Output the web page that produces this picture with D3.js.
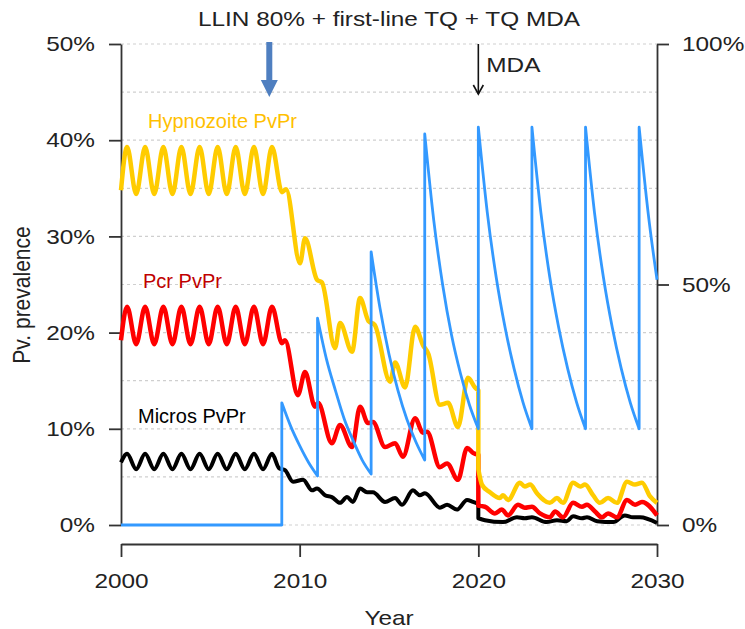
<!DOCTYPE html>
<html>
<head>
<meta charset="utf-8">
<script src="https://cdn.jsdelivr.net/npm/d3@7"></script>
<style>
  body { margin: 0; background: #fff; }
  svg text { font-family: "Liberation Sans", Arial, sans-serif; }
</style>
</head>
<body>
<svg id="chart" width="745" height="629"></svg>
<script>
// ---- data: [year, percent] ----
const hypnozoite = [
  [2000.00,34.8],[2000.34,39.3],[2000.85,34.4],[2001.35,39.3],[2001.86,34.4],[2002.37,39.3],
  [2002.88,34.4],[2003.38,39.3],[2003.89,34.4],[2004.40,39.3],[2004.91,34.4],[2005.41,39.3],
  [2005.92,34.4],[2006.42,39.3],[2006.93,34.4],[2007.44,39.3],[2007.95,34.4],[2008.45,39.3],
  [2009.01,34.6],[2009.24,34.9],[2010.02,27.2],[2010.30,29.8],[2010.97,25.5],[2011.25,25.2],
  [2011.98,18.4],[2012.26,21.0],[2012.93,18.0],[2013.38,23.6],[2013.85,21.2],[2014.20,20.8],
  [2015.06,14.9],[2015.34,16.9],[2015.90,14.3],[2016.46,20.6],[2016.90,18.7],[2017.20,17.8],
  [2017.85,12.5],[2018.30,12.7],[2018.86,10.2],[2019.42,15.3],[2019.81,14.3],[2020.00,14.0],
  [2020.00,5.8],[2020.20,4.2],[2020.65,3.4],[2021.20,2.8],[2021.38,3.1],[2021.66,2.6],
  [2022.33,4.4],[2022.60,4.0],[2022.90,4.2],[2023.28,3.3],[2024.00,2.3],[2024.40,2.8],
  [2024.74,2.3],[2025.30,4.4],[2025.70,4.0],[2025.97,4.2],[2026.42,3.1],[2026.80,2.3],
  [2027.26,2.8],[2027.76,2.3],[2028.32,4.5],[2028.77,4.2],[2029.16,4.4],[2029.60,3.0],
  [2030.00,2.3]
];
const pcr = [
  [2000.00,19.2],[2000.34,22.7],[2000.85,18.8],[2001.35,22.7],[2001.86,18.8],[2002.37,22.7],
  [2002.88,18.8],[2003.38,22.7],[2003.89,18.8],[2004.40,22.7],[2004.91,18.8],[2005.41,22.7],
  [2005.92,18.8],[2006.42,22.7],[2006.93,18.8],[2007.44,22.7],[2007.95,18.8],[2008.45,22.7],
  [2009.01,18.9],[2009.18,19.2],[2009.90,13.5],[2010.30,15.9],[2010.86,12.3],[2011.03,12.7],
  [2011.80,8.5],[2012.26,10.4],[2012.93,8.1],[2013.38,12.3],[2013.82,10.6],[2014.10,10.7],
  [2014.78,8.1],[2015.34,8.5],[2015.78,7.1],[2016.46,11.1],[2016.90,9.6],[2017.13,9.7],
  [2017.85,6.0],[2018.25,6.4],[2018.86,4.7],[2019.37,8.0],[2019.70,7.5],[2020.00,7.3],
  [2020.00,2.0],[2020.37,1.9],[2020.93,1.2],[2021.32,1.6],[2021.66,1.0],[2022.22,2.1],
  [2022.60,1.8],[2023.00,1.9],[2023.45,1.2],[2024.00,0.8],[2024.30,1.4],[2024.74,0.8],
  [2025.30,2.3],[2025.80,1.9],[2026.08,2.1],[2026.53,1.4],[2026.92,0.8],[2027.26,1.2],
  [2027.76,0.8],[2028.32,2.6],[2028.77,2.1],[2029.16,2.4],[2030.00,1.0]
];
const micros = [
  [2000.00,6.5],[2000.34,7.4],[2000.85,5.8],[2001.35,7.4],[2001.86,5.8],[2002.37,7.4],
  [2002.88,5.8],[2003.38,7.4],[2003.89,5.8],[2004.40,7.4],[2004.91,5.8],[2005.41,7.4],
  [2005.92,5.8],[2006.42,7.4],[2006.93,5.8],[2007.44,7.4],[2007.95,5.8],[2008.45,7.4],
  [2008.85,5.9],[2009.18,5.7],[2009.63,4.5],[2010.19,4.7],[2010.69,3.6],[2010.97,3.8],
  [2011.42,3.1],[2011.80,2.9],[2012.26,2.3],[2012.65,2.9],[2012.98,2.4],[2013.38,3.8],
  [2013.77,3.4],[2014.10,3.4],[2014.78,2.4],[2015.34,2.8],[2015.73,2.1],[2016.34,3.6],
  [2016.73,3.1],[2017.01,3.3],[2017.85,1.8],[2018.25,2.1],[2018.80,1.6],[2019.37,2.6],
  [2019.70,2.4],[2020.00,2.2],[2020.00,0.7],[2020.37,0.5],[2021.38,0.3],[2022.16,0.8],
  [2022.60,0.7],[2023.00,0.8],[2023.82,0.3],[2024.40,0.5],[2024.95,0.4],[2025.30,0.9],
  [2025.80,0.7],[2026.08,0.8],[2026.65,0.4],[2027.55,0.3],[2028.20,1.0],[2028.65,0.8],
  [2029.05,0.8],[2030.00,0.2]
];
// LLIN coverage, right axis
const llin = [
  [2000,0],[2009,0],
  [2009,25.4],[2009.5,20.5],[2010,16.5],[2010.5,13.0],[2011,10.2],
  [2011,43.0],[2011.5,34.5],[2012,28.0],[2012.5,22.0],[2013,17.5],[2013.5,13.5],[2014,10.6],
  [2014,56.8],[2014.5,45.0],[2015,35.5],[2015.5,28.0],[2016,22.0],[2016.5,17.3],[2017,13.5],
  [2017,81.3],[2017.5,63.5],[2018,50.0],[2018.5,39.5],[2019,31.5],[2019.5,25.0],[2020,20.0],
  [2020,82.7],[2020.5,65.0],[2021,51.5],[2021.5,41.0],[2022,32.5],[2022.5,25.5],[2023,20.0],
  [2023,82.7],[2023.5,65.0],[2024,51.5],[2024.5,41.0],[2025,32.5],[2025.5,25.5],[2026,20.0],
  [2026,82.7],[2026.5,65.0],[2027,51.5],[2027.5,41.0],[2028,32.5],[2028.5,25.5],[2029,20.0],
  [2029,82.7],[2029.5,65.0],[2030,51.0]
];
const yearTicks = [2000, 2010, 2020, 2030];
const leftTicks = [0, 10, 20, 30, 40, 50];
const rightTicks = [0, 50, 100];
const gridLevels = [0, 5, 10, 15, 20, 25, 30, 35, 40, 45, 50];

// ---- layout ----
const svg = d3.select("#chart");
const SX = 1.16;   // R text in the source is stretched sideways
const x = d3.scaleLinear().domain([2000, 2030]).range([121, 657]);
const yL = d3.scaleLinear().domain([0, 50]).range([525, 44]);
const yR = d3.scaleLinear().domain([0, 100]).range([525, 44]);

// dashed grid
svg.append("g").selectAll("line").data(gridLevels).join("line")
  .attr("x1", x(2000)).attr("x2", x(2030))
  .attr("y1", d => yL(d)).attr("y2", d => yL(d))
  .attr("stroke", "#cfcfcf").attr("stroke-width", 1.2)
  .attr("stroke-dasharray", "3,3");

function styleAxis(g) {
  g.attr("font-size", 21).attr("font-family", "Liberation Sans, Arial, sans-serif");
  g.select(".domain").attr("stroke", "#333").attr("stroke-width", 1.8);
  g.selectAll(".tick line").attr("stroke", "#333").attr("stroke-width", 1.8);
  g.selectAll(".tick text").attr("fill", "#222").each(function () {
    const t = d3.select(this);
    const tx = +t.attr("x") || 0;
    t.attr("x", 0).attr("transform", `translate(${tx},0) scale(${SX},1)`);
  });
}

svg.append("g").attr("transform", `translate(${x(2000)},0)`)
  .call(d3.axisLeft(yL).tickValues(leftTicks).tickFormat(d => d + "%")
    .tickSize(12).tickSizeOuter(0).tickPadding(14))
  .call(styleAxis);

svg.append("g").attr("transform", `translate(${x(2030)},0)`)
  .call(d3.axisRight(yR).tickValues(rightTicks).tickFormat(d => d + "%")
    .tickSize(12).tickSizeOuter(0).tickPadding(13))
  .call(styleAxis);

svg.append("g").attr("transform", "translate(0,544)")
  .call(d3.axisBottom(x).tickValues(yearTicks).tickFormat(d3.format("d"))
    .tickSize(13).tickSizeOuter(0).tickPadding(16))
  .call(styleAxis);

// lines: split at vertical jumps, smooth each run, join with straight drops
function jumpPath(data, y) {
  const runs = [];
  let cur = [];
  data.forEach((d, i) => {
    if (i > 0 && d[0] === data[i - 1][0]) { runs.push(cur); cur = []; }
    cur.push(d);
  });
  runs.push(cur);
  const line = d3.line().x(d => x(d[0])).y(d => y(d[1])).curve(d3.curveMonotoneX);
  return runs.map((r, i) => { const p = line(r); return i ? "L" + p.slice(1) : p; }).join("");
}

const series = [
  { data: micros, y: yL, color: "#000000", w: 4 },
  { data: pcr, y: yL, color: "#ff0000", w: 4.5 },
  { data: hypnozoite, y: yL, color: "#ffcc00", w: 4.5 },
  { data: llin, y: yR, color: "#3399ff", w: 2.8 }
];
svg.append("g").selectAll("path").data(series).join("path")
  .attr("d", s => jumpPath(s.data, s.y))
  .attr("fill", "none")
  .attr("stroke", s => s.color)
  .attr("stroke-width", s => s.w)
  .attr("stroke-linejoin", "round");

// ---- texts ----
function rText(str, tx, ty, anchor) {
  return svg.append("text")
    .attr("transform", `translate(${tx},${ty}) scale(${SX},1)`)
    .attr("text-anchor", anchor).attr("font-size", 21).attr("fill", "#222")
    .text(str);
}
rText("LLIN 80% + first-line TQ + TQ MDA", 389, 26, "middle");
rText("Year", 389, 625, "middle");
rText("MDA", x(2020) + 8, 72, "start");

svg.append("text")
  .attr("transform", `translate(30,295) scale(${SX},1) rotate(-90)`)
  .attr("text-anchor", "middle").attr("font-size", 21).attr("fill", "#222")
  .text("Pv. prevalence");

// series labels (added on top in a different font)
const labels = [
  { t: "Hypnozoite PvPr", x: 148, y: 128, c: "#ffc000" },
  { t: "Pcr PvPr", x: 143, y: 288, c: "#c00000" },
  { t: "Micros PvPr", x: 138, y: 423, c: "#000000" }
];
svg.append("g").selectAll("text").data(labels).join("text")
  .attr("x", d => d.x).attr("y", d => d.y)
  .attr("font-family", "Lato, 'Open Sans', sans-serif")
  .attr("font-size", 20).attr("fill", d => d.c)
  .text(d => d.t);

// MDA arrow
const mx = x(2020);
svg.append("line").attr("x1", mx).attr("x2", mx).attr("y1", 44).attr("y2", 94)
  .attr("stroke", "#111").attr("stroke-width", 1.6);
svg.append("path").attr("d", `M${mx - 5},85L${mx},94L${mx + 5},85`)
  .attr("fill", "none").attr("stroke", "#111").attr("stroke-width", 1.6);

// blue LLIN arrow
const bx = x(2008.3);
svg.append("rect").attr("x", bx - 3).attr("y", 42).attr("width", 6).attr("height", 39)
  .attr("fill", "#4f7fc0");
svg.append("path").attr("d", `M${bx - 8.5},80L${bx + 8.5},80L${bx},97Z`)
  .attr("fill", "#4f7fc0");
</script>
</body>
</html>
